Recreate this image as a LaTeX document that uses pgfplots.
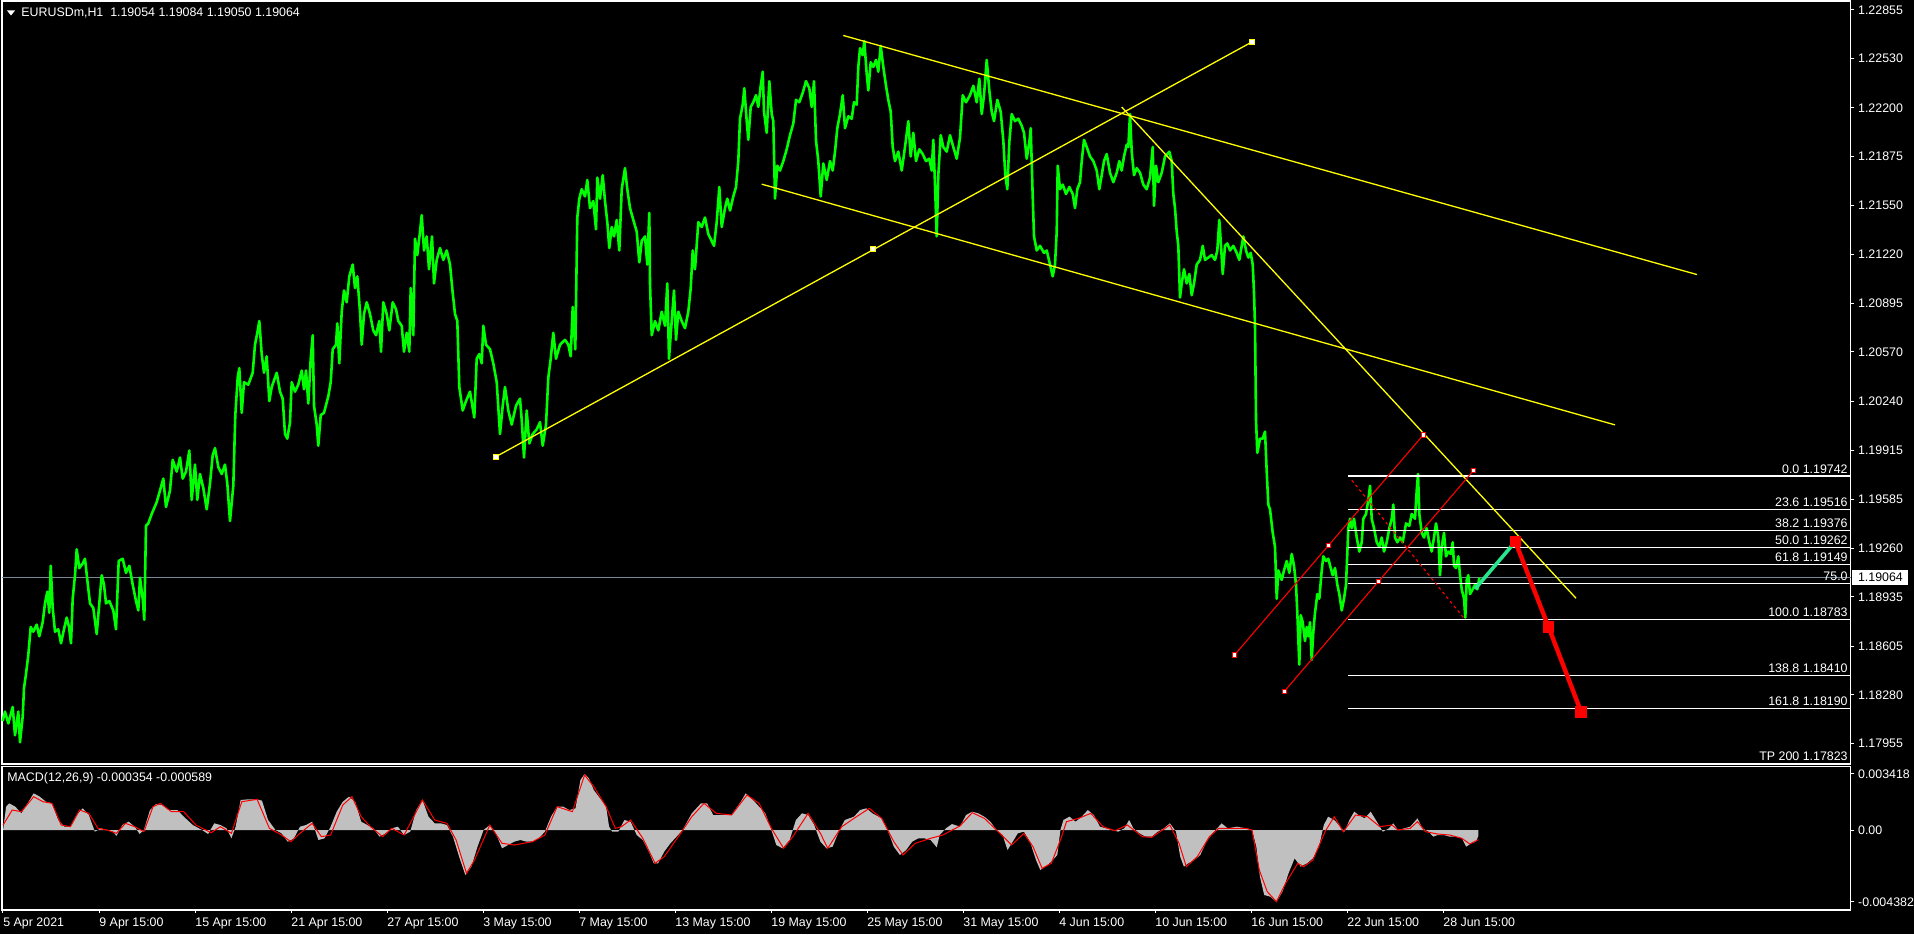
\documentclass[border=0pt]{standalone}
\usepackage{pgfplots}
\pgfplotsset{compat=1.18}
\usepackage{fontspec}
\setmainfont{Liberation Sans}
\definecolor{mtgreen}{RGB}{0,255,0}
\definecolor{mtyellow}{RGB}{255,255,0}
\definecolor{mtgray}{RGB}{119,136,153}
\definecolor{mtsilver}{RGB}{192,192,192}
\definecolor{mtspring}{RGB}{40,230,140}
\definecolor{mtred}{RGB}{255,0,0}
\newcommand{\lbl}{\fontsize{6.2}{7.2}\selectfont}
\tikzset{fibl/.style={anchor=south east, inner sep=0pt, text=white, font=\lbl, yshift=1.2pt}}
\begin{document}
\begin{tikzpicture}
\useasboundingbox (0,0) rectangle (957pt,467pt);
\fill[black] (0,0) rectangle (957pt,467pt);
\begin{axis}[
  at={(1pt,85pt)}, anchor=south west, scale only axis,
  width=924.35pt, height=381.5pt,
  xmin=2, xmax=1850.7, ymin=1.17818, ymax=1.229143,
  clip=false,
  axis line style={white, line width=0.6pt},
  xtick=\empty,
  ytick={1.22855,1.22530,1.22200,1.21875,1.21550,1.21220,1.20895,1.20570,1.20240,1.19915,1.19585,1.19260,1.18935,1.18605,1.18280,1.17955},
  yticklabels={1.22855,1.22530,1.22200,1.21875,1.21550,1.21220,1.20895,1.20570,1.20240,1.19915,1.19585,1.19260,1.18935,1.18605,1.18280,1.17955},
  ytick pos=right, yticklabel pos=right,
  tick align=outside, major tick length=1.5pt,
  tick style={white, line width=0.5pt},
  yticklabel style={font=\lbl, text=white, anchor=west, inner sep=0pt},
  yticklabel shift=2pt,
  /pgf/number format/assume math mode=true,
]
% current price line
\addplot[mtgray, line width=0.5pt] coordinates {(2,1.19064) (1850.7,1.19064)};
% price
\addplot[mtgreen, line width=1.3pt, line join=round] table {
x y
2.7 1.18105
5 1.18168
8.3 1.18089
12.7 1.18199
15 1.18010
18.3 1.18168
20 1.17963
22.7 1.18136
24 1.18325
26 1.18419
28.3 1.18545
30.7 1.18733
33.3 1.18702
36.7 1.18749
39.3 1.18671
42.7 1.18765
45 1.18891
47.3 1.18969
49.3 1.18828
50.7 1.19142
52.7 1.18860
55 1.18702
58.3 1.18718
61 1.18624
64 1.18718
66.7 1.18796
69 1.18733
71 1.18624
72.7 1.18922
75 1.19079
76.7 1.19252
79.3 1.19126
82.7 1.19158
85 1.19189
87.3 1.19048
90 1.18891
93.3 1.18860
96.7 1.18686
99.3 1.18891
101.7 1.19079
104 1.19016
106 1.18891
109.3 1.18907
113.3 1.18844
116 1.18718
118.7 1.19174
122.7 1.19189
126 1.19095
129.3 1.19142
132.7 1.19016
136 1.18907
138.3 1.18844
140 1.19063
142.7 1.18922
144.3 1.18781
146 1.19409
148.3 1.19425
151.7 1.19488
156.7 1.19567
160 1.19645
163.3 1.19724
166 1.19535
170 1.19645
172.7 1.19849
176.7 1.19771
180 1.19865
182.7 1.19724
186 1.19771
189.3 1.19912
191.7 1.19582
195 1.19818
197.3 1.19582
200 1.19755
203.3 1.19661
206.7 1.19519
210 1.19692
212.7 1.19881
215 1.19928
218.3 1.19802
221.7 1.19755
225 1.19818
227.3 1.19692
230 1.19441
233.3 1.19676
235.3 1.20148
237.7 1.20399
239.3 1.20462
241.7 1.20164
244 1.20368
248.3 1.20352
252.7 1.20431
255 1.20619
257.3 1.20698
259.3 1.20777
261.7 1.20556
264 1.20431
266.7 1.20541
269.3 1.20242
271.7 1.20336
276.7 1.20431
280 1.20305
282.7 1.20258
285 1.20022
287.3 1.19991
290 1.20101
291.7 1.20368
295 1.20305
298.3 1.20352
301.7 1.20446
304 1.20321
306 1.20446
308.3 1.20226
310.7 1.20525
312.7 1.20682
314 1.20211
316.7 1.20085
318.3 1.19944
320.7 1.20148
324 1.20164
328.3 1.20274
330.7 1.20368
332.7 1.20588
336 1.20619
337.3 1.20761
339.3 1.20494
341.7 1.20839
344 1.20981
346.7 1.20902
349.3 1.21075
352.7 1.21154
355 1.20997
357.3 1.21075
360 1.20839
361.7 1.20619
364 1.20824
366.7 1.20902
370 1.20824
373.3 1.20714
376 1.20682
379.3 1.20777
381 1.20572
383.3 1.20902
386.7 1.20824
389.3 1.20714
392.7 1.20902
396 1.20855
398.3 1.20777
401.7 1.20745
404 1.20572
406.7 1.20698
409.3 1.20572
410.7 1.20997
413.3 1.20682
415 1.21327
417.3 1.21217
420 1.21374
421.7 1.21484
424 1.21248
426.7 1.21342
429 1.21122
432 1.21342
434 1.21028
436.7 1.21185
440 1.21264
443.3 1.21185
446.7 1.21248
450 1.21154
452.7 1.20965
455 1.20824
457.3 1.20777
459.3 1.20336
462.7 1.20179
466 1.20242
470 1.20305
472.7 1.20195
474.3 1.20132
476.7 1.20525
479.3 1.20556
481.7 1.20494
483.3 1.20745
486 1.20619
490 1.20588
493.3 1.20494
496.7 1.20368
500 1.20022
502.7 1.20211
505 1.20336
508.3 1.20179
511.7 1.20085
516 1.20211
520 1.20258
521.7 1.20117
524 1.19865
526.7 1.20179
529.3 1.19959
532.7 1.20022
536.7 1.20053
540 1.20101
542.7 1.19944
546 1.20085
548.3 1.20399
550.7 1.20525
553.3 1.20698
556 1.20525
560 1.20619
565 1.20651
568.3 1.20619
570.7 1.20541
572.7 1.20871
575.3 1.20588
577.3 1.21468
579.3 1.21594
581.7 1.21657
585 1.21609
587.3 1.21719
590 1.21531
593.3 1.21578
596 1.21389
597.3 1.21735
600 1.21594
602.7 1.21751
605 1.21578
607.3 1.21437
609.3 1.21264
611.7 1.21405
614 1.21342
616.7 1.21452
619.3 1.21248
621.7 1.21657
625 1.21798
627.3 1.21657
630 1.21531
633.3 1.21452
636.7 1.21374
639.3 1.21169
641.7 1.21311
645 1.21342
647.3 1.21154
649.3 1.21499
650 1.21028
651.7 1.20682
655 1.20776
658.3 1.20714
661.7 1.20839
665 1.20745
667.3 1.21028
669 1.20525
671.7 1.20776
674 1.20981
676 1.20651
678.3 1.20839
681.7 1.20776
685 1.20729
688.3 1.20839
690.7 1.20996
692.7 1.21248
695 1.21122
698.3 1.21437
701.7 1.21405
705 1.21468
708.3 1.21358
711.7 1.21311
714 1.21279
716.7 1.21437
719.3 1.21672
721.7 1.21405
725 1.21531
727.3 1.21594
730 1.21515
733.3 1.21609
736 1.21672
738.3 1.21845
740 1.22128
742.7 1.22222
744.3 1.22332
746.7 1.22112
748.3 1.21987
750.7 1.22207
753.3 1.22238
756 1.22285
758.3 1.22207
760.7 1.22348
762.7 1.22442
764 1.22175
766.7 1.22034
769.3 1.22379
771.7 1.22159
773.3 1.22112
775 1.21594
777.3 1.21814
780 1.21782
783.3 1.21845
786.7 1.21924
790 1.22018
793.3 1.22096
796 1.22254
799.3 1.22238
802.7 1.22301
806 1.22379
809.3 1.22332
811.7 1.22207
814 1.22379
816 1.21982
818.3 1.21845
820.7 1.21609
823.3 1.21829
826.7 1.21719
830 1.21845
832.7 1.21782
835 1.21908
837.3 1.22065
840 1.22159
842.7 1.22285
845 1.22065
848.3 1.22144
851.7 1.22128
854 1.22238
856.7 1.22222
858.3 1.22474
860 1.22599
862.7 1.22552
864.3 1.22647
866.7 1.22427
868.3 1.22317
870.7 1.22505
873.3 1.22474
876 1.22521
878.3 1.22442
880.7 1.22615
883.3 1.22474
886 1.22348
888.3 1.22254
890.7 1.22175
892.7 1.21939
895 1.21845
898.3 1.21908
901.7 1.21782
905 1.21939
908.3 1.22112
910.7 1.21876
913.3 1.22034
916 1.21845
919.3 1.21924
922.7 1.21892
926 1.21845
929.3 1.21861
931.7 1.21782
933.3 1.21987
935 1.21688
936.7 1.21342
938.3 1.21751
940.7 1.22018
943.3 1.21939
946.7 1.21908
950 1.22018
953.3 1.21939
956.7 1.21861
960 1.22002
962.7 1.22285
966 1.22238
970 1.22285
973.3 1.22348
976.7 1.22238
979.3 1.22395
981.7 1.22159
984 1.22285
986.7 1.22521
989.3 1.22317
991.7 1.22175
994 1.22112
997.3 1.22254
1000.7 1.22175
1003.3 1.21982
1005.3 1.21751
1007.3 1.21657
1009.3 1.21971
1011.7 1.22159
1015 1.22112
1018.3 1.22128
1021.7 1.22081
1024 1.22034
1026.7 1.21861
1029.3 1.21971
1030.7 1.22065
1032.7 1.21609
1034 1.21342
1036.7 1.21248
1040 1.21279
1044 1.21232
1046.7 1.21248
1050 1.21154
1052.7 1.21075
1055 1.21154
1056.7 1.21374
1057.7 1.21814
1060 1.21657
1062.7 1.21688
1066 1.21625
1069.3 1.21672
1072.7 1.21625
1075 1.21531
1077.3 1.21657
1080 1.21704
1081.7 1.21845
1084 1.21987
1086.7 1.21939
1090 1.21876
1093.3 1.21845
1096.7 1.21782
1099.3 1.21657
1101.7 1.21751
1104 1.21845
1106.7 1.21892
1110 1.21767
1113.3 1.21704
1116.7 1.21767
1119.3 1.21845
1121.7 1.21782
1124 1.21876
1126.7 1.21955
1128.3 1.21939
1130 1.22159
1131.7 1.21908
1134 1.21751
1136.7 1.21798
1140 1.21767
1143.3 1.21688
1146.7 1.21657
1150 1.21735
1152.7 1.21939
1154 1.21546
1156 1.21814
1158.3 1.21704
1161.7 1.21767
1165 1.21876
1167.3 1.21892
1169.3 1.21908
1171.7 1.21845
1173.3 1.21625
1175 1.21531
1176.7 1.21374
1178.3 1.21279
1180 1.20934
1181.7 1.21028
1184 1.21122
1186.7 1.21028
1189.3 1.21091
1191.7 1.20949
1194 1.21028
1196.7 1.21154
1200 1.21185
1202.7 1.21279
1205 1.21185
1208.3 1.21201
1211.7 1.21217
1215 1.21185
1217.3 1.21248
1219.3 1.21452
1220.7 1.21311
1222.7 1.21091
1225 1.21279
1227.3 1.21295
1230 1.21248
1233.3 1.21279
1236.7 1.21232
1239.3 1.21185
1241.7 1.21279
1243.3 1.21342
1246 1.21248
1248.3 1.21201
1250.7 1.21232
1252.7 1.21154
1254 1.20965
1255 1.20745
1256 1.20117
1257.3 1.19896
1260 1.19991
1262.7 1.19991
1265 1.20038
1266.7 1.19771
1268.3 1.19551
1270 1.19519
1272.7 1.19363
1275 1.19268
1276.7 1.18922
1278.3 1.19111
1281.7 1.19048
1284 1.19111
1286.7 1.19174
1289.3 1.19095
1291.7 1.19221
1294 1.19142
1296 1.19016
1297.3 1.18828
1299.3 1.18482
1300.7 1.18812
1302.7 1.18765
1305 1.18639
1306.7 1.18733
1308.3 1.18671
1310 1.18765
1311.7 1.18514
1313.3 1.18702
1315 1.18828
1317.3 1.18953
1319.3 1.18922
1321.7 1.19111
1323.3 1.19205
1326 1.19174
1328.3 1.19189
1330.7 1.19127
1332.7 1.19079
1335 1.19127
1337.3 1.19016
1339.3 1.18953
1341.7 1.18844
1344 1.18922
1346 1.19016
1348.3 1.19393
1350 1.19456
1351.7 1.19393
1354 1.19456
1356.7 1.19331
1359.3 1.19237
1361.7 1.19299
1363.3 1.19456
1366 1.19488
1368.3 1.19582
1370 1.19676
1371.7 1.19456
1374 1.19393
1376.7 1.19299
1379.3 1.19268
1381.7 1.19331
1384 1.19237
1386.7 1.19299
1389.3 1.19393
1391.7 1.19456
1393.3 1.19551
1395 1.19331
1397.3 1.19299
1400 1.19331
1402.7 1.19299
1406 1.19425
1409.3 1.19409
1411.7 1.19488
1415 1.19456
1416.7 1.19645
1418 1.19755
1419.3 1.19488
1421.7 1.19362
1424 1.19331
1426.7 1.19393
1429.3 1.19299
1431.7 1.19237
1434 1.19331
1436 1.19425
1438.3 1.19331
1440 1.19079
1441.7 1.19268
1444 1.19362
1446 1.19205
1448.3 1.19237
1450.7 1.19221
1452.7 1.19299
1454 1.19142
1456 1.19127
1458.3 1.19205
1460 1.19079
1461.7 1.18985
1464 1.18922
1465.3 1.18796
1466.7 1.19048
1468.3 1.19079
1470 1.18953
1472.7 1.18985
1475 1.19016
1477.3 1.18985
1479.3 1.19063
};
% Fibonacci levels
\addplot[white, line width=0.6pt] coordinates {(1348,1.19742) (1850.7,1.19742)};
\addplot[white, line width=0.6pt] coordinates {(1348,1.19516) (1850.7,1.19516)};
\addplot[white, line width=0.6pt] coordinates {(1348,1.19376) (1850.7,1.19376)};
\addplot[white, line width=0.6pt] coordinates {(1348,1.19262) (1850.7,1.19262)};
\addplot[white, line width=0.6pt] coordinates {(1348,1.19149) (1850.7,1.19149)};
\addplot[white, line width=0.6pt] coordinates {(1348,1.19023) (1850.7,1.19023)};
\addplot[white, line width=0.6pt] coordinates {(1348,1.18783) (1850.7,1.18783)};
\addplot[white, line width=0.6pt] coordinates {(1348,1.18410) (1850.7,1.18410)};
\addplot[white, line width=0.6pt] coordinates {(1348,1.18190) (1850.7,1.18190)};
\addplot[white, line width=0.6pt] coordinates {(1348,1.17823) (1850.7,1.17823)};
\node[fibl] at (axis cs:1848,1.19742) {0.0 1.19742};
\node[fibl] at (axis cs:1848,1.19516) {23.6 1.19516};
\node[fibl] at (axis cs:1848,1.19376) {38.2 1.19376};
\node[fibl] at (axis cs:1848,1.19262) {50.0 1.19262};
\node[fibl] at (axis cs:1848,1.19149) {61.8 1.19149};
\node[fibl] at (axis cs:1848,1.19023) {75.0};
\node[fibl] at (axis cs:1848,1.18783) {100.0 1.18783};
\node[fibl] at (axis cs:1848,1.18410) {138.8 1.18410};
\node[fibl] at (axis cs:1848,1.18190) {161.8 1.18190};
\node[fibl] at (axis cs:1848,1.17823) {TP 200 1.17823};
% yellow trend lines
\addplot[mtyellow, line width=0.65pt] coordinates {(496,1.19871) (1251.7,1.22640)};
\addplot[mtyellow, line width=0.65pt] coordinates {(843.3,1.22684) (1697,1.21087)};
\addplot[mtyellow, line width=0.65pt] coordinates {(761.7,1.21691) (1615,1.20083)};
\addplot[mtyellow, line width=0.65pt] coordinates {(1121.7,1.22206) (1576,1.18925)};
\addplot[only marks, mark=square*, mark size=1.2pt, mark options={draw=mtyellow, fill=white, line width=0.5pt}] coordinates {(496,1.19871) (873.3,1.21257) (1251.7,1.22640)};
% red channel
\addplot[mtred, line width=0.55pt] coordinates {(1234.3,1.18545) (1423.3,1.20016)};
\addplot[mtred, line width=0.55pt] coordinates {(1284.3,1.18303) (1473.3,1.19777)};
\addplot[mtred, line width=0.55pt, dash pattern=on 1.5pt off 1.5pt] coordinates {(1351.7,1.19714) (1463.3,1.18797)};
\addplot[only marks, mark=square*, mark size=1.1pt, mark options={draw=mtred, fill=white, line width=0.5pt}] coordinates {(1234.3,1.18545) (1328.3,1.19277) (1423.3,1.20016) (1284.3,1.18303) (1378.3,1.19038) (1473.3,1.19777)};
% projected path
\addplot[mtspring, line width=1.8pt] coordinates {(1475,1.18987) (1515.3,1.19303)};
\addplot[mtred, line width=2.2pt, mark=square*, mark size=1.8pt, mark options={fill=mtred, draw=mtred}] coordinates {(1515.3,1.19303) (1548.6,1.18732) (1581.1,1.18166)};
% current price tag
\node[fill=white, text=black, inner sep=0pt, minimum width=28pt, minimum height=7.6pt, anchor=west, font=\lbl] at (axis cs:1852,1.19064) {1.19064};
\end{axis}
\begin{axis}[
  at={(1pt,12pt)}, anchor=south west, scale only axis,
  width=924.35pt, height=71.65pt,
  xmin=2, xmax=1850.7, ymin=-0.00488, ymax=0.003861,
  axis line style={white, line width=0.6pt},
  xtick={3,99,195,291,387,483,579,675,771,867,963,1059,1155,1251,1347,1443},
  xticklabels={5 Apr 2021,9 Apr 15:00,15 Apr 15:00,21 Apr 15:00,27 Apr 15:00,3 May 15:00,7 May 15:00,13 May 15:00,19 May 15:00,25 May 15:00,31 May 15:00,4 Jun 15:00,10 Jun 15:00,16 Jun 15:00,22 Jun 15:00,28 Jun 15:00},
  xtick pos=bottom,
  ytick={-0.004382,0,0.003418},
  yticklabels={-0.004382,0.00,0.003418},
  scaled y ticks=false,
  ytick pos=right, yticklabel pos=right,
  tick align=outside, major tick length=1.5pt,
  tick style={white, line width=0.5pt},
  yticklabel style={font=\lbl, text=white, anchor=west, inner sep=0pt},
  yticklabel shift=2pt,
  xticklabel style={font=\lbl, text=white, anchor=north west, inner sep=0pt},
  xticklabel shift=2pt,
  /pgf/number format/assume math mode=true,
]
\addplot[fill=mtsilver, draw=none] table {
x y
3.1 0
6.1 0.001423
9.2 0.001626
15.3 0.001423
21.4 0.001017
27.6 0.001626
33.7 0.002236
39.8 0.002033
45.9 0.001728
52 0.001626
58.2 0.000610
64.3 0.000203
70.4 0.000203
76.5 0.000915
82.7 0.001321
88.8 0.000915
94.9 -0.000102
101 0.000102
107.1 0
113.3 -0.000102
116.3 -0.000366
122.4 0.000305
128.6 0.000508
134.7 0.000203
139.6 -0.000244
143.9 0
150 0.001220
156.1 0.001586
162.2 0.001525
168.4 0.001220
177.5 0.001220
183.7 0.000813
192.8 0.000305
202 0
208.1 -0.000244
214.3 0.000407
220.4 0.000305
226.5 0.000102
231.4 -0.000508
235.7 0.000203
240.6 0.001830
247.9 0.001870
257.1 0.001870
262 0.001789
268.1 0.000610
275.5 0
281.6 -0.000203
287.7 -0.000712
293.9 -0.000508
300 0.000203
306.1 0.000305
312.2 0.000508
318.4 -0.000610
324.5 -0.000508
330.6 0.000203
336.7 0.001118
342.8 0.001728
349 0.002033
355.1 0.001728
361.2 0.000508
367.3 0.000305
373.4 0.000102
379.6 -0.000407
385.7 -0.000203
391.8 0.000102
397.9 0.000203
404.1 -0.000305
410.2 -0.000102
416.3 0.001220
422.4 0.001830
428.5 0.000813
434.7 0.000407
440.8 0.000407
446.9 0.000305
453 -0.000407
459.1 -0.001626
465.3 -0.002745
471.4 -0.002236
477.5 -0.001017
483.6 0
489.8 0.000305
495.9 -0.000203
502 -0.001118
508.1 -0.000915
514.2 -0.000712
520.4 -0.000610
526.5 -0.000712
532.6 -0.000712
538.7 -0.000508
544.9 -0.000102
551 0.000813
557.1 0.001423
563.2 0.001423
569.3 0.001220
575.5 0.001321
580.4 0.003050
584.6 0.003416
588.9 0.003151
593.8 0.002440
600 0.001931
606.1 0.001423
609.1 0.000203
612.2 -0.000102
618.3 -0.000102
624.4 0.000610
630.6 0.000508
636.7 -0.000305
642.8 -0.000610
648.9 -0.001321
653.8 -0.002033
658.1 -0.002033
664.2 -0.001321
670.4 -0.000813
676.5 -0.000407
682.6 0
691.8 0.001017
701 0.001626
707.1 0.001626
713.2 0.000915
722.4 0.000915
731.6 0.000915
740.8 0.001728
745.7 0.002236
753 0.001830
759.1 0.001423
765.3 0.001017
771.4 0
776.3 -0.000915
782.4 -0.001118
789.7 -0.000610
795.9 0.000610
802 0.001017
808.1 0.000915
814.2 0.000305
820.4 -0.000712
826.5 -0.001118
832.6 -0.001017
838.7 -0.000102
844.8 0.000610
854 0.000813
860.1 0.001220
866.3 0.001321
872.4 0.001017
881.6 0.000712
887.7 0
893.8 -0.001017
899.9 -0.001525
906.1 -0.001220
912.2 -0.000712
918.3 -0.000508
924.4 -0.000508
930.6 -0.000610
936.7 -0.001057
939.7 -0.000305
945.9 0.000102
952 0.000366
959.9 0.000203
966.1 0.000915
972.2 0.001118
978.3 0.001017
984.3 0.000813
990.4 0.000508
996.5 0
1002.6 -0.000305
1007.5 -0.001220
1011.7 -0.000813
1017.8 -0.000203
1023.9 -0.000102
1030 -0.000712
1036 -0.001830
1040.3 -0.002440
1045.2 -0.002236
1051.3 -0.001931
1057.3 -0.001525
1060.4 0
1063.4 0.000610
1069.5 0.000813
1075.6 0.000508
1081.7 0.000813
1087.8 0.001220
1093.8 0.000915
1099.9 0.000203
1106 0.000102
1112.1 0
1118.2 -0.000102
1124.3 0.000102
1129.1 0.000610
1133.4 0.000102
1139.5 -0.000203
1145.6 -0.000407
1151.6 -0.000407
1157.7 -0.000102
1163.8 0.000102
1169.9 0.000407
1176 -0.000102
1180.2 -0.001626
1183.9 -0.002236
1188.2 -0.002033
1194.2 -0.001830
1200.3 -0.001525
1206.4 -0.000712
1212.5 -0.000203
1218.6 0.000203
1221.6 0.000407
1227.7 0.000102
1236.8 0.000203
1246 0.000102
1252 0
1256.3 -0.001017
1259.9 -0.002846
1264.2 -0.003964
1270.3 -0.004066
1276.4 -0.004382
1282.5 -0.003761
1288.5 -0.002643
1294.6 -0.001728
1300.7 -0.002236
1306.8 -0.002033
1312.9 -0.001728
1319 -0.001017
1323.8 0.000305
1328.1 0.000813
1334.2 0.000610
1340.3 0.000203
1344.5 -0.000102
1349.4 0.000610
1354.2 0.001118
1358.5 0.000915
1364.6 0.000712
1370.7 0.001118
1376.8 0.000508
1382.8 -0.000102
1388.9 0.000102
1393.2 0.000407
1398 0
1404.1 0.000102
1410.2 0.000203
1417.5 0.000712
1422.4 0.000102
1428.5 -0.000102
1433.3 -0.000407
1437.6 -0.000305
1443.7 -0.000305
1449.8 -0.000407
1455.8 -0.000407
1461.9 -0.000508
1466.2 -0.001017
1471.1 -0.000813
1475.9 -0.000712
1478.4 -0.000354
} \closedcycle;
\addplot[mtred, line width=0.5pt] table {
x y
3.1 0.000305
12.2 0.001220
21.4 0.001118
33.7 0.002033
42.9 0.001728
52 0.001626
61.2 0.000305
70.4 0.000203
79.6 0.001220
88.8 0.001017
98 0.000102
107.1 0
116.3 -0.000203
125.5 0.000407
134.7 0.000203
143.9 -0.000102
153 0.001423
160.4 0.001626
171.4 0.001118
183.7 0.001118
195.9 0.000305
211.2 -0.000163
220.4 0.000203
231.4 -0.000203
241.8 0.001728
257.1 0.001870
269.4 0.000102
281.6 -0.000305
290.8 -0.000712
300 -0.000203
312.2 0.000407
321.4 -0.000407
330.6 -0.000305
342.8 0.001525
352 0.002033
361.2 0.000813
370.4 0.000203
382.6 -0.000407
391.8 0.000102
404.1 -0.000305
422.4 0.001830
434.7 0.000610
446.9 0.000407
456.1 -0.000610
466.5 -0.002643
474.5 -0.001830
489.8 0.000305
502 -0.000813
514.2 -0.000915
532.6 -0.000712
544.9 -0.000305
557.1 0.001423
572.4 0.001118
584.6 0.003354
593.8 0.002643
606.1 0.001423
615.3 0.000102
621.4 0.000203
630.6 0.000610
642.8 -0.000508
655.1 -0.002033
664.2 -0.001626
679.5 -0.000305
691.8 0.000813
704 0.001626
716.3 0.001017
731.6 0.000915
746.9 0.002135
759.1 0.001626
771.4 0.000102
783.6 -0.001118
792.8 -0.000407
808.1 0.001017
820.4 -0.000203
827.7 -0.001118
841.8 0.000203
854 0.000712
869.3 0.001321
881.6 0.000712
893.8 -0.000712
903 -0.001525
915.2 -0.000813
930.6 -0.000508
942.8 -0.000305
959.9 0.000244
972.2 0.001057
984.3 0.000712
996.5 0
1011.7 -0.000915
1023.9 -0.000203
1033 -0.001017
1042.1 -0.002338
1051.3 -0.002033
1060.4 -0.000610
1066.5 0.000508
1078.6 0.000712
1090.8 0.001017
1103 0.000203
1115.1 -0.000041
1127.3 0.000305
1142.5 -0.000407
1151.6 -0.000447
1169.9 0.000305
1179 -0.000813
1186.3 -0.002236
1197.3 -0.001626
1209.4 -0.000407
1218.6 0.000102
1227.7 0.000102
1246 0.000102
1252 0
1259.3 -0.002440
1267.2 -0.003761
1276.4 -0.004371
1285.5 -0.003253
1297.7 -0.002033
1303.7 -0.002236
1312.9 -0.001830
1325 -0.000102
1334.2 0.000813
1343.3 -0.000102
1355.5 0.000915
1367.6 0.000813
1379.8 0.000203
1392 0.000305
1398 0
1410.2 0.000102
1417.5 0.000508
1425.4 -0.000102
1437.6 -0.000244
1449.8 -0.000305
1461.9 -0.000508
1469.8 -0.000854
1478.4 -0.000589
};
\end{axis}
\begin{scope}[x=0.5pt,y=0.5pt]
\fill[white] (7,923.5) -- (15,923.5) -- (11,918.5) -- cycle;
\node[anchor=base west, inner sep=0pt, text=white, font=\lbl] at (21,917.5) {EURUSDm,H1\ \ 1.19054 1.19084 1.19050 1.19064};
\node[anchor=base west, inner sep=0pt, text=white, font=\lbl] at (7,152.5) {MACD(12,26,9) -0.000354 -0.000589};
\end{scope}
\end{tikzpicture}
\end{document}
